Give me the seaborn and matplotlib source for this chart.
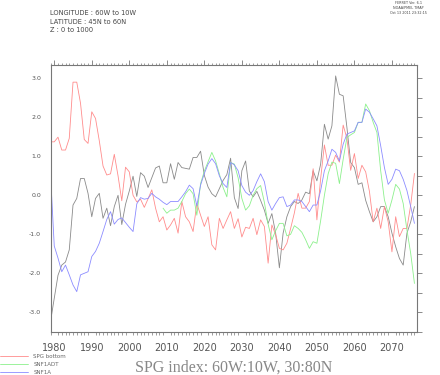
import numpy as np
import pandas as pd
import matplotlib
matplotlib.use('Agg')
import matplotlib.pyplot as plt
import matplotlib.ticker as mticker
import seaborn as sns

years = np.arange(1979, 2077)

# SPG bottom (red)
spg_bottom = [
    1.37, 1.37, 1.49, 1.16, 1.16, 1.46, 2.90, 2.90, 2.36, 1.43,
    1.33, 2.14, 1.97, 1.40, 0.75, 0.52, 0.55, 1.05, 0.50, -0.14,
    0.72, 0.60, 0.00, -0.17, -0.10, -0.31, -0.09, 0.14, -0.33, -0.68,
    -0.55, -0.89, -0.76, -0.59, -0.97, -0.16, -0.55, -0.68, -0.93, -0.21,
    -0.51, -0.80, -0.55, -1.27, -1.40, -0.59, -0.85, -0.63, -0.42, -0.85,
    -0.60, -1.07, -0.82, -0.85, -0.59, -1.01, -0.63, -0.80, -1.74, -0.76,
    -1.01, -1.36, -1.40, -1.23, -0.85, -0.45, 0.05, -0.33, -0.33, -0.16,
    0.68, -0.63, 0.43, 1.29, 0.77, 0.77, 1.03, 0.85, 1.80, 1.46,
    0.64, 1.07, 0.43, 0.77, 0.60, 0.10, -0.68, -0.33, -0.85, -0.29,
    -0.68, -1.45, -0.55, -1.06, -0.85, -0.85, -0.25, 0.56,
]

# SNF1ADT (green), starts in 2009
snf1adt = [np.nan] * 30 + [
    -0.33, -0.46, -0.38, -0.38, -0.33, -0.16, 0.04, 0.16, 0.04, -0.51,
    0.30, 0.62, 0.86, 1.10, 0.88, 0.55, 0.20, -0.04, 0.84, 0.80,
    0.45, -0.08, -0.38, -0.27, 0.00, 0.17, 0.25, -0.18, -0.74, -1.14,
    -0.91, -0.72, -0.72, -1.04, -1.00, -0.78, -0.85, -0.95, -1.14, -1.36,
    -1.19, -1.23, -0.65, 0.00, 0.55, 0.85, 0.82, 0.30, 0.92, 1.48,
    1.55, 1.61, 1.87, 1.87, 2.34, 2.17, 1.87, 1.61, 0.63, -0.12,
    -0.46, -0.12, 0.28, 0.16, -0.21, -0.89, -1.49, -2.26,
]

# SNF1A (blue)
snf1a = [
    0.55, -1.30, -1.61, -1.96, -1.79, -2.04, -2.30, -2.47, -2.04, -2.00,
    -1.96, -1.57, -1.44, -1.23, -0.93, -0.62, -0.42, -0.74, -0.62, -0.58,
    -0.70, -0.82, -0.93, -0.22, -0.06, -0.10, -0.08, 0.05, -0.04, -0.10,
    -0.18, -0.24, -0.16, -0.16, -0.16, -0.04, 0.09, 0.26, 0.17, -0.27,
    0.26, 0.56, 0.80, 0.94, 0.81, 0.50, 0.30, 0.20, 0.84, 0.78,
    0.63, 0.25, 0.08, 0.00, 0.12, 0.35, 0.55, 0.35, -0.16, -0.38,
    -0.21, -0.06, -0.04, -0.29, -0.25, -0.12, -0.12, -0.16, -0.29, -0.42,
    -0.25, -0.25, 0.12, 0.63, 0.88, 1.18, 1.10, 0.88, 1.31, 1.57,
    1.61, 1.65, 1.87, 1.87, 2.21, 2.13, 1.96, 1.78, 1.27, 0.71,
    0.28, 0.41, 0.67, 0.63, 0.41, 0.12, -0.29, -0.72,
]

# unlabelled grey series
spg_total = [
    -3.24, -2.64, -2.05, -1.79, -1.71, -1.40, -0.25, -0.08, 0.43, 0.43,
    0.05, -0.55, -0.08, 0.05, -0.59, -0.33, -0.78, -0.29, 0.00, -0.75,
    -0.23, 0.11, 0.49, -0.03, 0.58, 0.49, 0.20, 0.45, 0.70, 0.75,
    0.32, 0.32, 0.81, 0.41, 0.84, 0.71, 0.69, 0.67, 0.97, 0.97,
    1.13, 0.51, 0.21, 0.04, -0.04, 0.17, 0.38, 0.53, 0.95, -0.06,
    -0.34, 0.63, 0.88, 0.11, -0.04, 0.10, -0.13, -0.38, -0.72, -0.47,
    -0.97, -1.86, -0.97, -0.55, -0.29, -0.16, -0.21, -0.12, 0.08, 0.04,
    0.63, 0.37, 0.80, 1.82, 1.44, 1.78, 3.06, 2.59, 2.55, 1.74,
    0.84, 0.71, 0.28, 0.32, -0.13, -0.42, -0.68, -0.55, -0.29, -0.29,
    -0.55, -0.97, -1.32, -1.62, -1.79, -0.97, -0.68, -0.29,
]

labels = ['SPG bottom', 'SNF1ADT', 'SNF1A']
colors = ['#ff8c8c', '#8cf08c', '#8c8cff']
grey = '#8a8a8a'

sns.set_style('white')
plt.rcParams['font.family'] = ['DejaVu Sans']

fig = plt.figure(figsize=(4.4, 3.75), dpi=100)
ax = fig.add_axes([50.5 / 440, 1 - 332 / 375, (416.7 - 50.5) / 440, (332 - 65) / 375])

sns.lineplot(x=years, y=spg_total, color=grey, lw=0.6, ax=ax, legend=False)
for vals, lab, col in zip([spg_bottom, snf1adt, snf1a], labels, colors):
    sns.lineplot(x=years, y=vals, color=col, lw=0.6, ax=ax, label=lab)

ax.set_xlim(1979.0, 2076.6)
ax.set_ylim(-3.505, 3.34)
ax.set_xlabel('')
ax.set_ylabel('')

edge = '#777777'
for s in ax.spines.values():
    s.set_color(edge)
    s.set_linewidth(0.8)

ax.xaxis.set_major_locator(mticker.MultipleLocator(10))
ax.xaxis.set_minor_locator(mticker.MultipleLocator(1))
ax.yaxis.set_major_locator(mticker.MultipleLocator(0.5))
ax.yaxis.set_major_formatter(mticker.FuncFormatter(
    lambda v, p: f'{v:.1f}' if abs(v - round(v)) < 1e-6 else ''))

ax.tick_params(axis='x', which='major', direction='out', length=3.6, width=0.6,
               color=edge, top=True, labelsize=7, labelcolor='#555555', pad=4.5)
ax.tick_params(axis='x', which='minor', direction='out', length=1.8, width=0.5,
               color=edge, top=True, bottom=True)
ax.tick_params(axis='y', which='major', direction='out', length=3.6, width=0.6,
               color=edge, right=True, labelsize=4.5, labelcolor='#555555', pad=3.2)

# header text
fig.text(50 / 440, 1 - 13 / 375, 'LONGITUDE : 60W to 10W', fontsize=4.8,
         color='#444444', va='center')
fig.text(50 / 440, 1 - 21.7 / 375, 'LATITUDE : 45N to 60N', fontsize=4.8,
         color='#444444', va='center')
fig.text(50 / 440, 1 - 30 / 375, 'Z : 0 to 1000', fontsize=4.8,
         color='#444444', va='center')
for i, t in enumerate(['FERRET Ver. 6.1', 'NOAA/PMEL TMAP', 'Oct 13 2011 23:32:15']):
    fig.text(408 / 440, 1 - (3.5 + 4.5 * i) / 375, t, fontsize=2.4,
             color='#444444', ha='center', va='center')

fig.text(233.6 / 440, 1 - 368 / 375, 'SPG index: 60W:10W, 30:80N',
         fontsize=11.5, family='Liberation Serif', color='#888888',
         ha='center', va='center')

leg = ax.legend(loc='upper left', bbox_to_anchor=(0, 1 - 353.5 / 375),
                bbox_transform=fig.transFigure, frameon=False, fontsize=4,
                handlelength=5.0, handletextpad=1.0, labelspacing=0.55,
                borderpad=0, borderaxespad=0)
for t in leg.get_texts():
    t.set_color('#666666')
for h in leg.get_lines():
    h.set_linewidth(0.6)

fig.savefig('out.png', dpi=100)
